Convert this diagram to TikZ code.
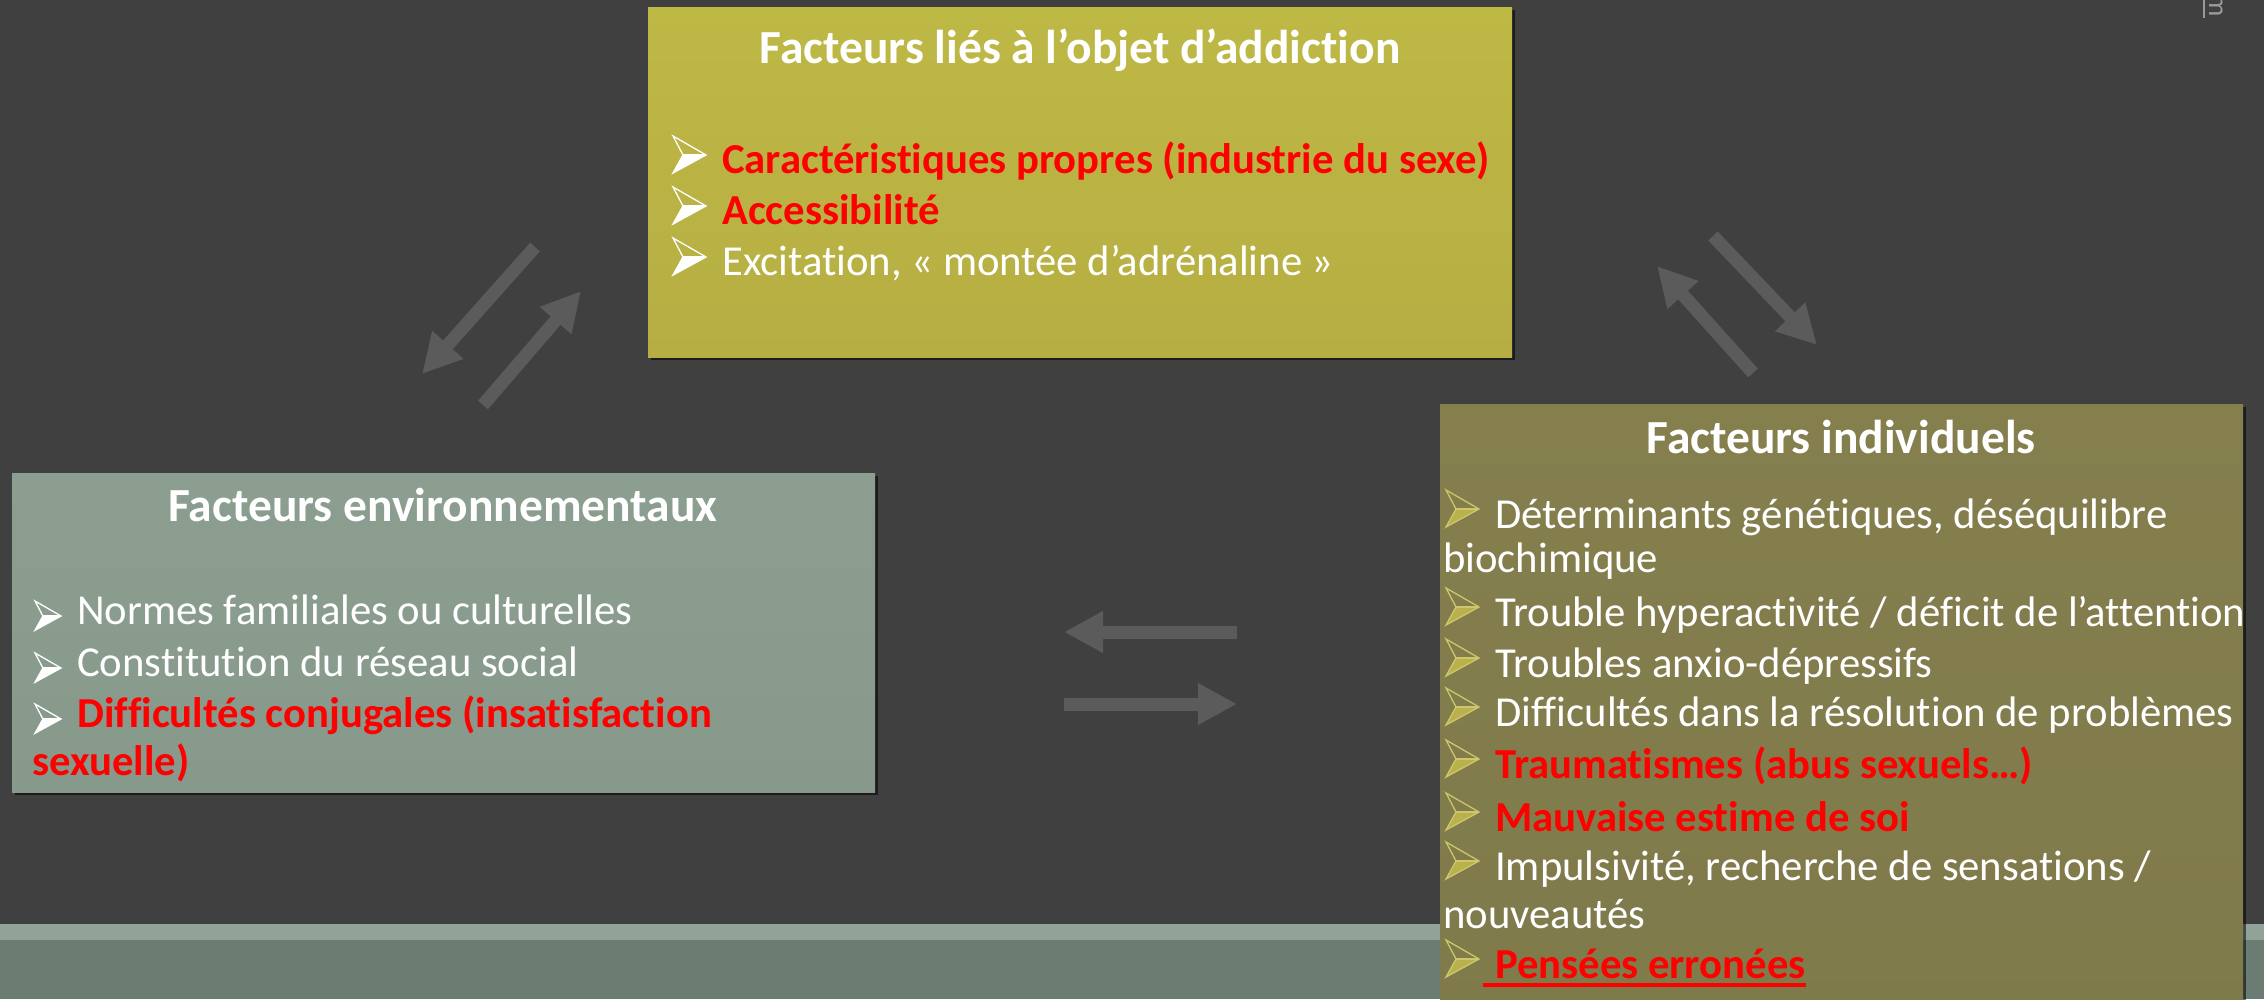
\documentclass[tikz,border=0pt]{standalone}
\usepackage{fontspec}
\setmainfont[Ligatures={NoCommon}]{Carlito}
\usetikzlibrary{arrows.meta,shadows}

\definecolor{bg}{HTML}{404040}
\definecolor{bandlight}{HTML}{91A398}
\definecolor{banddark}{HTML}{6B7D72}
\definecolor{objtop}{HTML}{BEB845}
\definecolor{objbot}{HTML}{B6AE43}
\definecolor{envtop}{HTML}{8B9E90}
\definecolor{envbot}{HTML}{86998B}
\definecolor{indtop}{HTML}{857F4E}
\definecolor{indbot}{HTML}{7F7A4B}
\definecolor{arrowgray}{HTML}{5B5B5B}
\definecolor{olivebullet}{HTML}{B8B14C}
\definecolor{olivebulletedge}{HTML}{CDC66C}
\definecolor{hotred}{HTML}{FF0000}
\definecolor{marker}{HTML}{9A9A9A}

\tikzset{
  panel/.style={rectangle, inner sep=0pt, anchor=north west, draw=none,
    drop shadow={shadow xshift=3pt, shadow yshift=-3pt, opacity=.55, fill=black}},
  heading/.style={inner sep=0pt, anchor=base, text=white,
    font=\fontsize{47.5}{56}\selectfont\bfseries},
  item/.style={inner sep=0pt, anchor=base west, text=white,
    font=\fontsize{42.7}{50}\selectfont},
  hot/.style={item, text=hotred, font=\fontsize{42.7}{50}\selectfont\bfseries},
  flow/.style={draw=arrowgray, line width=13pt,
    -{Triangle[width=39pt,length=39pt]}},
  bulletfill/.style={fill=white},
  bulletedge/.style={draw=white},
  pics/arrowbullet/.style={code={
    % lower facet solid, upper facet outlined
    \fill[bulletfill] (10,19) -- (33,19) -- (0,37) -- cycle;
    \draw[bulletedge, line width=1.3pt, line join=miter]
      (0,0) -- (33,19) -- (0,37) -- (10,19) -- cycle;
    \draw[bulletedge, line width=1.3pt] (10,19) -- (33,19);
  }},
  olive/.style={bulletfill/.style={fill=olivebullet},
    bulletedge/.style={draw=olivebulletedge}},
}

\begin{document}
\begin{tikzpicture}[x=1pt,y=-1pt]
\useasboundingbox (0,0) rectangle (2264,999);
\clip (0,0) rectangle (2264,999);
\fill[bg] (0,0) rectangle (2264,999);

% footer band
\fill[bandlight] (0,924) rectangle (2264,940);
\fill[banddark] (0,940) rectangle (2264,999);

% corner marker
\draw[marker, line width=1.6pt] (2204,0) -- (2204,18);
\node[text=marker, rotate=-90, inner sep=0pt, font=\fontsize{28}{30}\selectfont]
  (mark) at (2216,6) {m};

% ---------- panels ----------
\node[panel, minimum width=864pt, minimum height=350pt,
      top color=objtop, bottom color=objbot] (obj) at (648,7) {};
\node[panel, minimum width=863pt, minimum height=319pt,
      top color=envtop, bottom color=envbot] (env) at (12,473) {};
\node[panel, minimum width=803pt, minimum height=640pt,
      top color=indtop, bottom color=indbot] (ind) at (1440,404) {};

% ---------- object of addiction ----------
\node[heading] (objtitle) at (1080,63) {Facteurs liés à l’objet d’addiction};
\pic at (673,136) {arrowbullet};
\node[hot] (obj1) at (722,173) {Caractéristiques propres (industrie du sexe)};
\pic at (673,187) {arrowbullet};
\node[hot] (obj2) at (722,224) {Accessibilité};
\pic at (673,238) {arrowbullet};
\node[item] (obj3) at (722,275) {Excitation, « montée d’adrénaline »};

% ---------- environmental factors ----------
\node[heading] (envtitle) at (443,521) {Facteurs environnementaux};
\pic[scale=0.79] at (35,601) {arrowbullet};
\node[item] (env1) at (77,624) {Normes familiales ou culturelles};
\pic[scale=0.79] at (35,653) {arrowbullet};
\node[item] (env2) at (77,676) {Constitution du réseau social};
\pic[scale=0.79] at (35,704) {arrowbullet};
\node[hot] (env3) at (77,727) {Difficultés conjugales (insatisfaction};
\node[hot] (env4) at (32,775) {sexuelle)};

% ---------- individual factors ----------
\node[heading] (indtitle) at (1841,453) {Facteurs individuels};
\pic[olive] at (1446,490) {arrowbullet};
\node[item] (ind1) at (1495,528) {Déterminants génétiques, déséquilibre};
\node[item] (ind1b) at (1443,572) {biochimique};
\pic[olive] at (1446,588) {arrowbullet};
\node[item] (ind2) at (1495,626) {Trouble hyperactivité / déficit de l’attention};
\pic[olive] at (1446,639) {arrowbullet};
\node[item] (ind3) at (1495,677) {Troubles anxio-dépressifs};
\pic[olive] at (1446,688) {arrowbullet};
\node[item] (ind4) at (1495,726) {Difficultés dans la résolution de problèmes};
\pic[olive] at (1446,740) {arrowbullet};
\node[hot] (ind5) at (1495,778) {Traumatismes (abus sexuels…)};
\pic[olive] at (1446,793) {arrowbullet};
\node[hot] (ind6) at (1495,831) {Mauvaise estime de soi};
\pic[olive] at (1446,842) {arrowbullet};
\node[item] (ind7) at (1495,880) {Impulsivité, recherche de sensations /};
\node[item] (ind7b) at (1443,928) {nouveautés};
\pic[olive] at (1446,940) {arrowbullet};
\node[hot] (ind8) at (1495,978) {Pensées erronées};
\draw[hotred, line width=3.5pt]
  ([xshift=-12pt,yshift=-7pt]ind8.base west) -- ([yshift=-7pt]ind8.base east);

% ---------- reciprocal influence arrows ----------
\coordinate (a1s) at (535,247); \coordinate (a1e) at (422,374);
\coordinate (a2s) at (483,405); \coordinate (a2e) at (581,291);
\coordinate (a3s) at (1753,373); \coordinate (a3e) at (1657,266);
\coordinate (a4s) at (1713,236); \coordinate (a4e) at (1817,345);
\coordinate (a5s) at (1237,632); \coordinate (a5e) at (1064,632);
\coordinate (a6s) at (1064,704); \coordinate (a6e) at (1237,704);
\draw[flow] (a1s) -- (a1e);
\draw[flow] (a2s) -- (a2e);
\draw[flow] (a3s) -- (a3e);
\draw[flow] (a4s) -- (a4e);
\draw[flow] (a5s) -- (a5e);
\draw[flow] (a6s) -- (a6e);
\end{tikzpicture}
\end{document}
